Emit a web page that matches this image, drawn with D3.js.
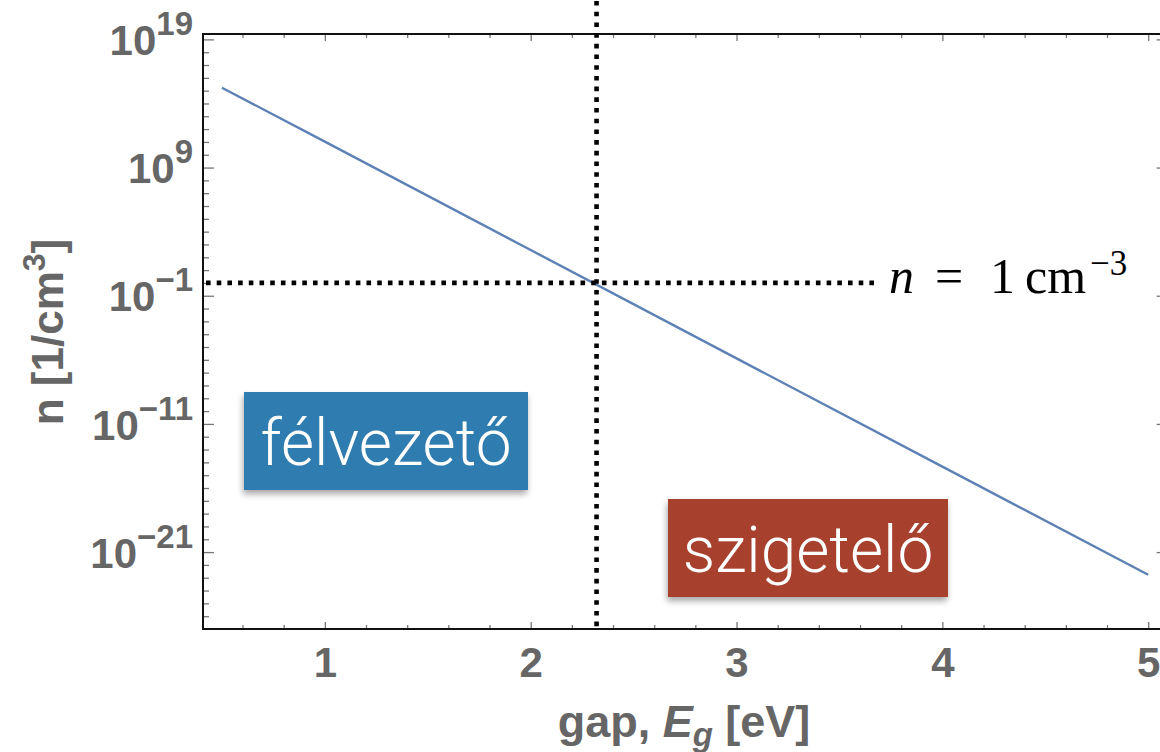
<!DOCTYPE html>
<html>
<head>
<meta charset="utf-8">
<script src="https://cdn.jsdelivr.net/npm/d3@7"></script>
<style>
  body { margin: 0; background: #fff; }
  svg { display: block; }
</style>
</head>
<body>
<svg id="chart" width="1160" height="752"></svg>
<script>
'use strict';

// gap energies (eV) and carrier density (1/cm^3)
var gapValues = [0.5, 1, 2, 3, 4, 5];
var densityValues = [1.7e15, 1.05e11, 3.7e2, 1.3e-6, 4.7e-15, 1.7e-23];

var xTickValues = [1, 2, 3, 4, 5];
var yTickExps = [19, 9, -1, -11, -21];

var thresholdDensity = 1;      // n = 1 cm^-3
var thresholdGap = 2.32;       // where the curve crosses it

var regionLabels = ['félvezető', 'szigetelő'];

var svg = d3.select('#chart');
var grey = '#666666';

var x = d3.scaleLinear().domain([0.408, 5.07]).range([203, 1162.6]);
var y = d3.scaleLog().domain([1e-27, Math.pow(10, 19.42)]).range([629, 34]);

var defs = svg.append('defs');
var shadow = defs.append('filter').attr('id', 'shadow')
    .attr('x', '-20%').attr('y', '-20%').attr('width', '140%').attr('height', '150%');
shadow.append('feDropShadow')
    .attr('dx', -1).attr('dy', 4).attr('stdDeviation', 3)
    .attr('flood-color', '#000').attr('flood-opacity', 0.35);

// minor ticks
var xMinor = d3.range(0.4, 5.01, 0.2).map(function(d) { return +d.toFixed(1); })
    .filter(function(d) { return xTickValues.indexOf(d) < 0 && d > 0.41; });
var yMinor = d3.range(-26, 20).filter(function(e) { return yTickExps.indexOf(e) < 0; })
    .map(function(e) { return Math.pow(10, e); });

var axes = svg.append('g');

function tickStyle(g) {
    g.select('.domain').remove();
    g.selectAll('.tick line').attr('stroke', '#777').attr('stroke-width', 1.3);
}

axes.append('g').attr('transform', 'translate(0,629)')
    .call(d3.axisBottom(x).tickValues(xMinor).tickSize(-4).tickFormat(''))
    .call(tickStyle);
axes.append('g').attr('transform', 'translate(0,629)')
    .call(d3.axisBottom(x).tickValues(xTickValues).tickSize(-7).tickPadding(18)
        .tickFormat(d3.format('d')))
    .call(tickStyle)
    .selectAll('text')
    .attr('fill', grey).attr('font-size', 42).attr('font-weight', 'bold')
    .attr('font-family', 'Liberation Sans, Arial, sans-serif');

axes.append('g').attr('transform', 'translate(0,34)')
    .call(d3.axisTop(x).tickValues(xMinor).tickSize(-4).tickFormat(''))
    .call(tickStyle);
axes.append('g').attr('transform', 'translate(0,34)')
    .call(d3.axisTop(x).tickValues(xTickValues).tickSize(-7).tickFormat(''))
    .call(tickStyle);

axes.append('g').attr('transform', 'translate(203,0)')
    .call(d3.axisLeft(y).tickValues(yMinor).tickSize(-6).tickFormat(''))
    .call(tickStyle);
var yMajor = axes.append('g').attr('transform', 'translate(203,0)')
    .call(d3.axisLeft(y).tickValues(yTickExps.map(function(e) { return Math.pow(10, e); }))
        .tickSize(-11).tickPadding(10).tickFormat(''))
    .call(tickStyle);

axes.append('g').attr('transform', 'translate(1162.6,0)')
    .call(d3.axisRight(y).tickValues(yTickExps.map(function(e) { return Math.pow(10, e); }))
        .tickSize(-6).tickFormat(''))
    .call(tickStyle);

yMajor.selectAll('.tick text')
    .attr('fill', grey).attr('font-size', 42).attr('font-weight', 'bold')
    .attr('font-family', 'Liberation Sans, Arial, sans-serif')
    .attr('x', -10).attr('dy', '0.36em')
    .each(function(d) {
        var t = d3.select(this);
        var e = Math.round(Math.log10(d));
        t.text(null);
        t.append('tspan').text('10');
        t.append('tspan').attr('dy', -20).attr('font-size', 33)
            .text(e < 0 ? '\u2212' + (-e) : String(e));
    });

// frame
svg.append('rect')
    .attr('x', 203).attr('y', 34)
    .attr('width', 1162.6 - 203).attr('height', 629 - 34)
    .attr('fill', 'none').attr('stroke', '#111').attr('stroke-width', 2);

// curve
var line = d3.line()
    .x(function(d) { return x(d[0]); })
    .y(function(d) { return y(d[1]); });

svg.append('path')
    .datum(d3.zip(gapValues, densityValues))
    .attr('d', line)
    .attr('fill', 'none')
    .attr('stroke', '#5e81b5')
    .attr('stroke-width', 2.4);

// dotted guides
svg.append('line')
    .attr('x1', 206).attr('x2', 878)
    .attr('y1', y(thresholdDensity)).attr('y2', y(thresholdDensity))
    .attr('stroke', '#000').attr('stroke-width', 4.6)
    .attr('stroke-dasharray', '4.6 6.1');

svg.append('line')
    .attr('x1', x(thresholdGap)).attr('x2', x(thresholdGap))
    .attr('y1', 1).attr('y2', 629)
    .attr('stroke', '#000').attr('stroke-width', 4.6)
    .attr('stroke-dasharray', '4.6 6.1');

// n = 1 cm^-3 label
var eq = svg.append('text')
    .attr('y', 293)
    .attr('font-family', 'Liberation Serif, DejaVu Serif, serif')
    .attr('font-size', 50).attr('fill', '#000');
eq.append('tspan').attr('x', 889).attr('font-style', 'italic').text('n');
eq.append('tspan').attr('x', 935).text('=');
eq.append('tspan').attr('x', 990).text('1');
eq.append('tspan').attr('x', 1025).text('cm');
eq.append('tspan').attr('x', 1090).attr('dy', -18).attr('font-size', 35).text('\u22123');

// region labels
var boxes = [
    {text: regionLabels[0], x: 244, y: 392, w: 284, h: 98, fill: '#2d7bb0', base: 465},
    {text: regionLabels[1], x: 668, y: 499, w: 280, h: 98, fill: '#a8412f', base: 572}
];

var boxG = svg.selectAll('.region').data(boxes).enter().append('g').attr('class', 'region');
boxG.append('rect')
    .attr('x', function(d) { return d.x; })
    .attr('y', function(d) { return d.y; })
    .attr('width', function(d) { return d.w; })
    .attr('height', function(d) { return d.h; })
    .attr('fill', function(d) { return d.fill; })
    .attr('filter', 'url(#shadow)');
boxG.append('text')
    .attr('x', function(d) { return d.x + d.w / 2; })
    .attr('y', function(d) { return d.base; })
    .attr('text-anchor', 'middle')
    .attr('font-family', 'Roboto, Lato, sans-serif')
    .attr('font-weight', 300)
    .attr('font-size', 64)
    .attr('fill', '#fff')
    .text(function(d) { return d.text; });

// axis titles
var xt = svg.append('text')
    .attr('x', 684).attr('y', 737)
    .attr('text-anchor', 'middle')
    .attr('fill', grey).attr('font-size', 45).attr('font-weight', 'bold')
    .attr('font-family', 'Liberation Sans, Arial, sans-serif');
xt.append('tspan').text('gap, ');
xt.append('tspan').attr('font-style', 'italic').text('E');
xt.append('tspan').attr('font-style', 'italic').attr('font-size', 33).attr('dy', 9).text('g');
xt.append('tspan').attr('dy', -9).text(' [eV]');

var yt = svg.append('text')
    .attr('transform', 'translate(63,332) rotate(-90)')
    .attr('text-anchor', 'middle')
    .attr('fill', grey).attr('font-size', 44).attr('font-weight', 'bold')
    .attr('font-family', 'Liberation Sans, Arial, sans-serif');
yt.append('tspan').text('n [1/cm');
yt.append('tspan').attr('font-size', 32).attr('dy', -18).text('3');
yt.append('tspan').attr('dy', 18).text(']');
</script>
</body>
</html>
